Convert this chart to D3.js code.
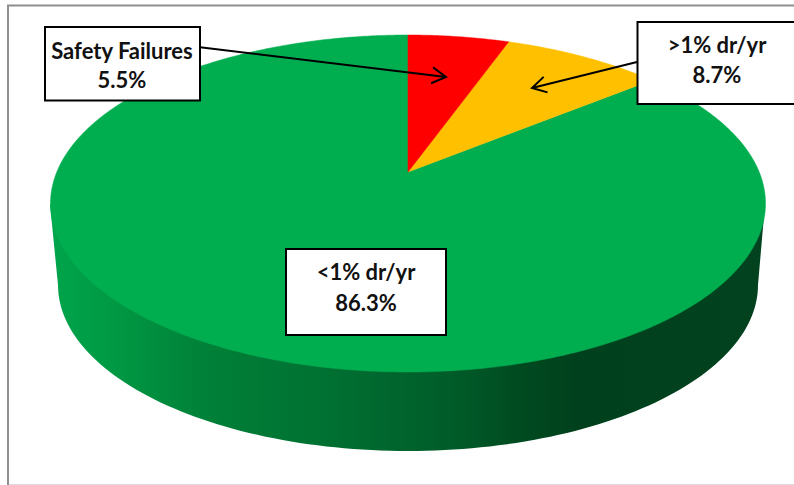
<!DOCTYPE html>
<html>
<head>
<meta charset="utf-8">
<script src="https://d3js.org/d3.v7.min.js"></script>
<style>
  html, body { margin: 0; padding: 0; background: #fff; }
  svg { display: block; }
  .box-label { font-family: Lato, sans-serif; font-weight: 700; font-size: 22px; fill: #111; text-anchor: middle; }
</style>
</head>
<body>
<svg width="794" height="485"></svg>
<script>
var categories = ["Safety Failures", ">1% dr/yr", "<1% dr/yr"];
var shares = [5.5, 8.7, 86.3];
var shareLabels = ["5.5%", "8.7%", "86.3%"];
var sliceColors = ["#ff0000", "#ffc000", "#00ae50"];

var svg = d3.select("svg"),
    width = +svg.attr("width"),
    height = +svg.attr("height");

// frame around the plot, open on the right
svg.append("path")
    .attr("d", "M" + (width + 1) + ",5.5H8V" + (height + 1))
    .attr("fill", "none")
    .attr("stroke", "#8f8f8f")
    .attr("stroke-width", 2);
svg.append("line")
    .attr("x1", 9).attr("x2", width)
    .attr("y1", 484.5).attr("y2", 484.5)
    .attr("stroke", "#dcdcdc");

// perspective tilt: the pie centre sits above the middle of the visible ellipse
var apex = [408, 172],
    tilt = 0.187,
    spreadX = 351.2,
    spreadY = 162.6;

function project(angle) {
  var u = Math.sin(angle),
      v = -Math.cos(angle),
      w = 1 - tilt * v;
  return [apex[0] + spreadX * u / w, apex[1] + spreadY * v / w];
}

var line = d3.line();

// side wall, covered on top by the face of the pie
var defs = svg.append("defs");
var wallGradient = defs.append("linearGradient")
    .attr("id", "wall")
    .attr("gradientUnits", "userSpaceOnUse")
    .attr("x1", 50).attr("x2", 765)
    .attr("y1", 0).attr("y2", 0);
[[0, "#00a54b"], [0.08, "#009a44"], [0.22, "#008038"], [0.4, "#006f31"],
 [0.56, "#005c29"], [0.66, "#004a20"], [0.74, "#00401c"], [1, "#02421f"]].forEach(function(s) {
  wallGradient.append("stop").attr("offset", s[0]).attr("stop-color", s[1]);
});

var baseRing = d3.range(0, Math.PI + 0.001, Math.PI / 120).map(function(t) {
  return [408 + 350 * Math.cos(t), 285 + 166 * Math.sin(t)];
});
svg.append("path")
    .attr("d", line([[765, 204]].concat(baseRing).concat([[50, 204]])) + "Z")
    .attr("fill", "url(#wall)");

// top face slices, angles come straight from the pie layout
var arcs = d3.pie().sort(null)(shares);

function slicePath(d) {
  var steps = Math.max(2, Math.ceil((d.endAngle - d.startAngle) / 0.01));
  var rim = d3.range(steps + 1).map(function(i) {
    return project(d.startAngle + (d.endAngle - d.startAngle) * i / steps);
  });
  return line([apex].concat(rim)) + "Z";
}

svg.append("g").selectAll("path")
    .data(arcs.slice().reverse())
    .enter().append("path")
      .attr("d", slicePath)
      .attr("fill", function(d) { return sliceColors[d.index]; })
      .attr("stroke", function(d) { return sliceColors[d.index]; })
      .attr("stroke-width", 0.5);

// open arrow heads for the callouts
defs.append("marker")
    .attr("id", "head")
    .attr("markerUnits", "userSpaceOnUse")
    .attr("markerWidth", 24).attr("markerHeight", 24)
    .attr("refX", 18).attr("refY", 12)
    .attr("orient", "auto")
  .append("path")
    .attr("d", "M4,4L18,12L4,20")
    .attr("fill", "none")
    .attr("stroke", "#000")
    .attr("stroke-width", 2);

var callouts = [
  { index: 0, box: [45, 27, 155, 73.5], text: [122, 59, 88], from: [198, 47], to: [446, 77] },
  { index: 1, box: [637.5, 22, 160, 82], text: [717, 53, 83], from: [637, 62], to: [532, 88] },
  { index: 2, box: [286, 249, 160, 86], text: [366, 280, 311] }
];

svg.append("g").selectAll("line")
    .data(callouts.filter(function(d) { return d.from; }))
    .enter().append("line")
      .attr("x1", function(d) { return d.from[0]; })
      .attr("y1", function(d) { return d.from[1]; })
      .attr("x2", function(d) { return d.to[0]; })
      .attr("y2", function(d) { return d.to[1]; })
      .attr("stroke", "#000")
      .attr("stroke-width", 2)
      .attr("marker-end", "url(#head)");

var boxes = svg.append("g").selectAll("g")
    .data(callouts)
    .enter().append("g");

boxes.append("rect")
    .attr("x", function(d) { return d.box[0]; })
    .attr("y", function(d) { return d.box[1]; })
    .attr("width", function(d) { return d.box[2]; })
    .attr("height", function(d) { return d.box[3]; })
    .attr("fill", "#fff")
    .attr("stroke", "#000")
    .attr("stroke-width", 2);

boxes.append("text")
    .attr("class", "box-label")
    .attr("x", function(d) { return d.text[0]; })
    .attr("y", function(d) { return d.text[1]; })
    .text(function(d) { return categories[d.index]; });

boxes.append("text")
    .attr("class", "box-label")
    .attr("x", function(d) { return d.text[0]; })
    .attr("y", function(d) { return d.text[2]; })
    .text(function(d) { return shareLabels[d.index]; });
</script>
</body>
</html>
